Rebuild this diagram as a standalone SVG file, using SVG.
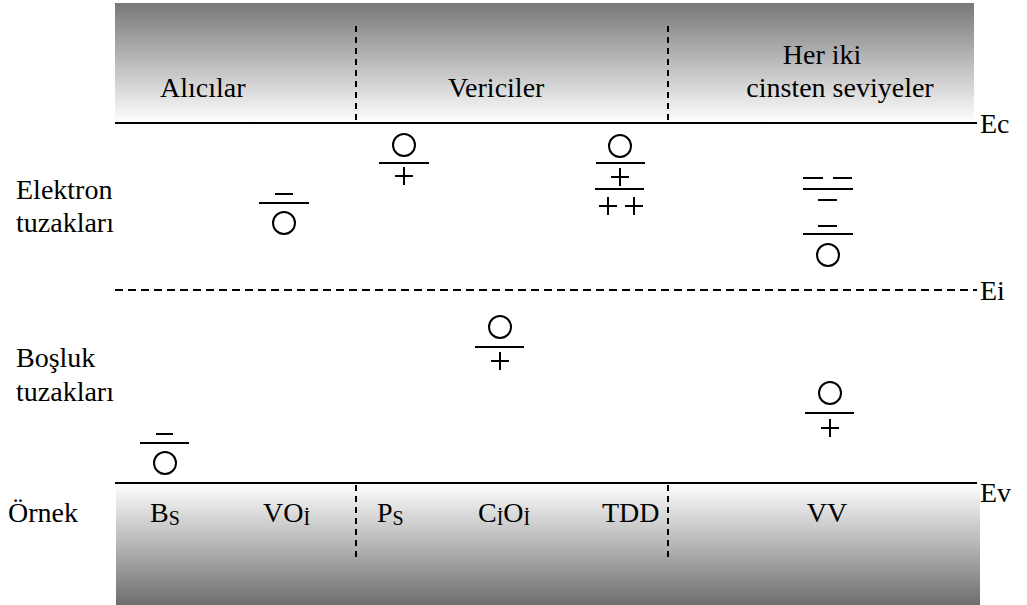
<svg xmlns="http://www.w3.org/2000/svg" width="1027" height="605" viewBox="0 0 1027 605">
<defs>
<linearGradient id="gTop" x1="0" y1="0" x2="0" y2="1">
<stop offset="0" stop-color="#787878"/>
<stop offset="1" stop-color="#ffffff"/>
</linearGradient>
<linearGradient id="gBot" x1="0" y1="0" x2="0" y2="1">
<stop offset="0" stop-color="#ffffff"/>
<stop offset="1" stop-color="#6e6e6e"/>
</linearGradient>
</defs>
<style>
text{font-family:"Liberation Serif","Times New Roman",serif;font-size:28px;fill:#000}
.sub{font-size:20px}
.s{stroke:#000;stroke-width:2;fill:none}
.d{stroke:#000;stroke-width:2;stroke-dasharray:6 5;fill:none}
.dh{stroke:#000;stroke-width:2;stroke-dasharray:8 5;fill:none}
</style>
<rect x="115" y="3" width="859" height="120" fill="url(#gTop)"/>
<rect x="116" y="483" width="864" height="122" fill="url(#gBot)"/>
<g id="levels">
<line class="s" x1="115" y1="123" x2="977" y2="123"/>
<line class="dh" x1="115" y1="290" x2="977" y2="290"/>
<line class="s" x1="115" y1="483" x2="977" y2="483"/>
<line class="d" x1="356" y1="26" x2="356" y2="120"/>
<line class="d" x1="668" y1="26" x2="668" y2="120"/>
<line class="d" x1="356" y1="485" x2="356" y2="557"/>
<line class="d" x1="668" y1="485" x2="668" y2="557"/>
</g>
<g id="labels">
<text x="160" y="97">Alıcılar</text>
<text x="448" y="97">Vericiler</text>
<text x="822" y="64" text-anchor="middle">Her iki</text>
<text x="840" y="97" text-anchor="middle">cinsten seviyeler</text>
<text x="980" y="133">Ec</text>
<text x="980" y="300">Ei</text>
<text x="980" y="502">Ev</text>
<text x="16" y="199">Elektron</text>
<text x="16" y="232">tuzakları</text>
<text x="16" y="367">Boşluk</text>
<text x="16" y="401">tuzakları</text>
<text x="8" y="522">Örnek</text>
<text x="150" y="522">B<tspan class="sub" dy="3">S</tspan></text>
<text x="263" y="522">VO<tspan class="sub" dy="3">İ</tspan></text>
<text x="377" y="522">P<tspan class="sub" dy="3">S</tspan></text>
<text x="478" y="522">C<tspan class="sub" dy="3">İ</tspan><tspan dy="-3">O</tspan><tspan class="sub" dy="3">İ</tspan></text>
<text x="602" y="522">TDD</text>
<text x="827" y="522" text-anchor="middle">VV</text>
</g>
<g id="VOi">
<line class="s" x1="275" y1="194" x2="293" y2="194"/>
<line class="s" x1="259" y1="203" x2="309" y2="203"/>
<circle class="s" cx="284" cy="223" r="11"/>
</g>
<g id="Ps">
<circle class="s" cx="404" cy="145" r="11"/>
<line class="s" x1="379" y1="163" x2="429" y2="163"/>
<path class="s" d="M395 176H413M404 167V185"/>
</g>
<g id="TDD">
<circle class="s" cx="620" cy="146" r="11"/>
<line class="s" x1="596" y1="163" x2="645" y2="163"/>
<path class="s" d="M611 177H629M620 168V186"/>
<line class="s" x1="595" y1="189" x2="644" y2="189"/>
<path class="s" d="M599 206H617M608 197V215M625 206H643M634 197V215"/>
</g>
<g id="VV-upper">
<path class="s" d="M803 178H823M833 178H852"/>
<line class="s" x1="803" y1="189" x2="853" y2="189"/>
<line class="s" x1="818" y1="200" x2="837" y2="200"/>
<line class="s" x1="818" y1="226" x2="837" y2="226"/>
<line class="s" x1="803" y1="234" x2="853" y2="234"/>
<circle class="s" cx="828" cy="255" r="11"/>
</g>
<g id="CiOi">
<circle class="s" cx="500" cy="327" r="11"/>
<line class="s" x1="475" y1="347" x2="524" y2="347"/>
<path class="s" d="M491 361H509M500 352V370"/>
</g>
<g id="VV-lower">
<circle class="s" cx="830" cy="393" r="11"/>
<line class="s" x1="805" y1="413" x2="854" y2="413"/>
<path class="s" d="M821 428H839M830 419V437"/>
</g>
<g id="Bs">
<line class="s" x1="156" y1="434" x2="173" y2="434"/>
<line class="s" x1="140" y1="443" x2="189" y2="443"/>
<circle class="s" cx="165" cy="463" r="11"/>
</g>
</svg>
